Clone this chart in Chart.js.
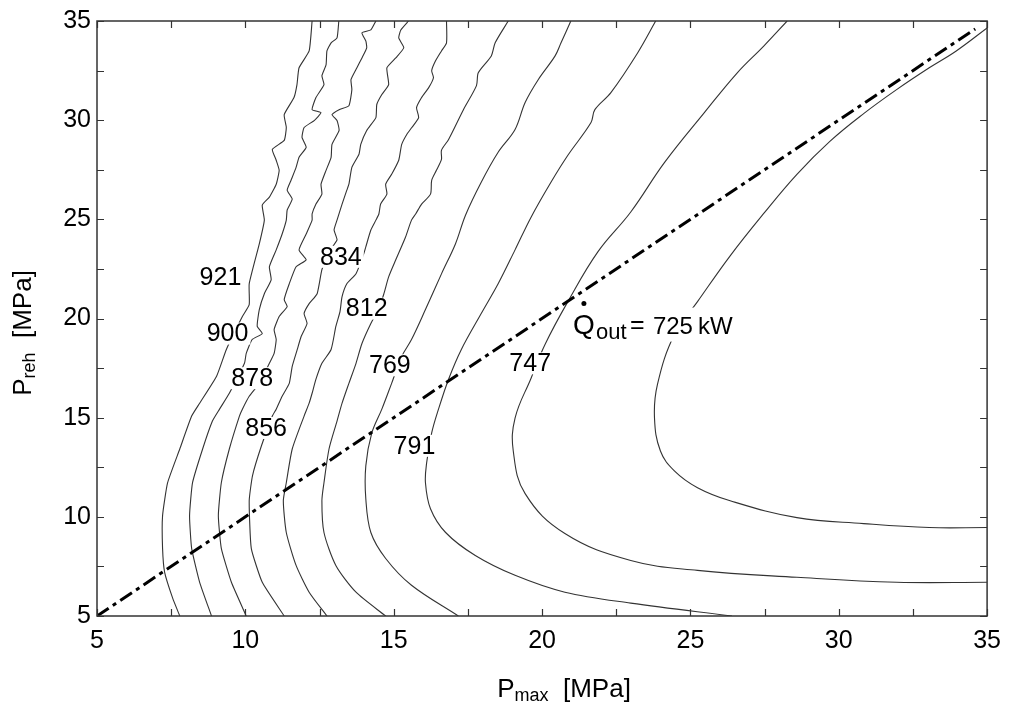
<!DOCTYPE html>
<html>
<head>
<meta charset="utf-8">
<script src="https://cdn.jsdelivr.net/npm/chart.js@4.4.0/dist/chart.umd.min.js"></script>
<style>
  html, body { margin: 0; padding: 0; background: #fff; }
  #wrap { width: 1011px; height: 706px; }
</style>
</head>
<body>
<div id="wrap"><canvas id="chart" width="1011" height="706"></canvas></div>
<script>
// contour lines of Q_out [kW], left to right as [Pmax, Preh]
const curve1 = [[12.25,35],[12.15,33.49],[11.81,32.64],[11.74,31.79],[11.64,31.14],[11.31,30.28],[11.38,29.63],[11.31,28.98],[10.91,28.53],[11.04,27.98],[11.14,27.47],[11.04,26.77],[10.81,26.12],[10.57,25.72],[10.64,24.96],[10.47,23.76],[10.13,21.75],[10.13,20.70],[9.90,20.10],[9.36,18.44],[9.03,17.09],[8.46,15.73],[8.19,15.08],[7.79,13.42],[7.38,11.72],[7.21,10.06],[7.21,8.41],[7.28,7.20],[7.55,5.90],[7.79,5]];
const curve2 = [[13.15,35],[13.09,34.15],[12.89,33.90],[12.75,33.49],[12.72,32.79],[12.58,32.24],[12.65,31.79],[12.38,31.14],[12.25,30.53],[12.55,30.38],[12.32,29.98],[11.98,29.63],[11.91,29.13],[12.05,28.63],[11.81,28.13],[11.71,27.62],[11.54,26.97],[11.41,26.47],[11.58,26.02],[11.41,25.47],[11.38,24.96],[11.24,24.26],[11.04,23.46],[10.81,22.61],[10.87,21.95],[10.64,21.25],[10.47,20.45],[10.40,19.60],[10.57,19.24],[10.23,18.94],[10.03,18.24],[9.97,17.74],[9.46,16.23],[9.13,15.43],[8.89,14.83],[8.56,13.42],[8.22,11.72],[8.12,10.06],[8.19,8.41],[8.46,6.70],[8.86,5]];
const curve3 = [[14.40,35],[14.23,34.55],[13.93,34.40],[14.06,34.00],[14.09,33.65],[13.93,33.14],[13.76,32.64],[13.56,32.04],[13.59,31.54],[13.49,30.73],[13.16,30.53],[12.92,30.28],[13.09,29.98],[13.16,29.48],[12.92,28.78],[12.89,28.13],[12.72,27.47],[12.55,26.77],[12.58,26.27],[12.38,25.77],[12.25,25.27],[12.25,24.96],[12.05,24.26],[11.81,23.46],[12.05,22.96],[11.71,22.61],[11.48,21.75],[11.31,20.95],[11.41,20.60],[11.14,20.10],[10.97,19.44],[11.04,18.94],[10.97,18.24],[10.81,17.74],[10.47,16.73],[10.13,16.08],[9.90,15.43],[9.80,15.08],[9.46,13.42],[9.19,11.72],[9.09,10.06],[9.19,8.41],[9.53,6.70],[10.03,5]];
const curve4 = [[15.50,35],[15.24,34.55],[15.17,34.15],[15.34,33.65],[15.07,33.14],[14.77,32.64],[14.83,31.79],[14.60,31.29],[14.43,30.79],[14.40,30.13],[14.09,29.48],[13.89,28.78],[13.83,28.28],[13.59,27.62],[13.49,26.77],[13.42,26.47],[13.26,25.77],[13.09,24.96],[12.99,24.46],[13.09,23.96],[12.82,23.36],[12.58,22.46],[12.42,21.25],[12.15,20.75],[11.98,20.25],[12.08,19.75],[11.88,19.09],[11.75,18.44],[11.58,17.59],[11.48,16.73],[11.24,16.08],[11.04,15.43],[10.91,15.08],[10.54,13.57],[10.24,12.07],[10.13,10.81],[10.20,8.41],[10.57,6.70],[11.31,5]];
const curve5 = [[16.78,35],[16.78,33.90],[16.61,33.49],[16.41,32.99],[16.28,32.49],[16.34,32.14],[16.18,31.64],[15.94,31.14],[15.77,30.63],[15.84,30.13],[15.61,29.63],[15.44,29.28],[15.27,28.78],[15.17,27.98],[14.93,27.27],[14.73,26.77],[14.77,26.27],[14.56,25.77],[14.50,25.27],[14.40,24.96],[14.23,24.46],[14.06,23.61],[13.99,23.26],[13.73,22.26],[13.42,21.75],[13.26,21.10],[13.19,20.35],[13.05,19.60],[12.89,18.44],[12.58,17.74],[12.38,16.94],[12.25,16.23],[12.15,15.73],[11.98,15.08],[11.58,13.42],[11.38,11.72],[11.28,10.81],[11.38,9.21],[11.71,7.55],[12.15,6.20],[12.75,5]];
const curve6 = [[18.86,35],[18.42,33.90],[18.29,33.24],[17.85,32.39],[17.79,31.74],[17.35,30.53],[16.85,29.03],[16.61,28.48],[16.61,28.02],[16.44,27.47],[16.28,26.97],[16.24,26.27],[15.94,25.77],[15.74,25.27],[15.60,24.96],[15.40,24.11],[15.07,22.96],[14.83,22.10],[14.67,21.25],[14.50,20.50],[14.23,19.75],[13.93,18.74],[13.73,17.74],[13.49,16.73],[13.26,15.73],[13.09,14.83],[12.82,13.42],[12.65,11.72],[12.58,10.81],[12.65,9.21],[13.05,7.55],[13.73,6.20],[14.73,5]];
const curve7 = [[20.97,35],[20.64,33.90],[20.44,33.24],[19.87,32.04],[19.43,30.89],[19.09,29.53],[18.52,28.38],[17.95,26.87],[17.42,25.21],[17.08,23.76],[16.61,22.25],[16.07,20.45],[15.60,18.94],[15.27,18.09],[14.93,16.73],[14.60,15.43],[14.26,14.22],[14.06,12.57],[14.06,10.91],[14.23,9.21],[14.73,7.90],[15.60,6.55],[17.18,5]];
const curve8 = [[23.83,35],[23.22,33.39],[22.32,31.39],[21.78,30.53],[21.65,29.88],[20.87,28.23],[20.30,26.87],[19.63,25.11],[19.09,23.46],[18.52,21.75],[17.95,20.25],[17.28,18.44],[16.85,16.94],[16.51,15.43],[16.28,14.23],[16.11,12.72],[16.07,11.72],[16.24,10.41],[16.75,9.21],[17.75,8.05],[19.09,7.05],[20.77,6.20],[22.99,5.65],[26.40,5]];
const curve9 = [[28.26,35],[27.48,33.75],[26.58,32.39],[25.47,30.38],[24.13,27.87],[22.99,25.37],[21.88,23.36],[20.87,20.85],[20.10,18.69],[19.63,16.99],[19.09,14.98],[19.03,13.32],[19.43,11.17],[20.77,9.16],[22.99,7.80],[25.24,7.30],[28.59,6.95],[31.95,6.70],[35,6.70]];
const curve10 = [[35,34.65],[33.96,33.49],[33.05,32.64],[31.95,31.54],[30.84,30.33],[29.70,28.93],[28.59,27.27],[27.48,25.31],[26.34,23.16],[25.24,20.85],[24.46,19.19],[23.89,16.68],[23.79,14.98],[23.99,13.32],[24.46,12.32],[25.24,11.47],[26.34,10.81],[28.59,9.96],[30.84,9.66],[33.05,9.46],[35,9.46]];
const curves = [curve1, curve2, curve3, curve4, curve5, curve6, curve7, curve8, curve9, curve10];
const curveTension = [0.15, 0.15, 0.15, 0.15, 0.2, 0.25, 0.35, 0.35, 0.4, 0.4];

// Preh = Pmax line
const diagonal = [[5,5],[34.6,34.6]];

// contour labels as printed, with their positions
const labelText = ['921', '900', '878', '856', '834', '812', '769', '791', '747'];
const labelX = [9.16, 9.40, 10.23, 10.70, 13.22, 14.09, 14.87, 15.70, 19.60];
const labelY = [22.10, 19.24, 16.99, 14.48, 23.11, 20.50, 17.64, 13.58, 17.74];
const qLabelAt = [21.04, 19.24];
const qValue = '725';

const xTicks = [5, 10, 15, 20, 25, 30, 35];
const yTicks = [5, 10, 15, 20, 25, 30, 35];

const FONT = '"Liberation Sans", Arial, sans-serif';

const datasets = curves.map((c, i) => ({
    data: c.map(([x, y]) => ({ x, y })),
    showLine: true,
    borderColor: '#333',
    borderWidth: 1.1,
    pointRadius: 0,
    tension: curveTension[i],
    order: 1
}));
datasets.push({
    data: diagonal.map(([x, y]) => ({ x, y })),
    showLine: true,
    borderColor: '#000',
    borderWidth: 3,
    borderDash: [14, 5, 4, 5],
    pointRadius: 0,
    order: 0
});

function drawTitle(ctx, main, sub, rest) {
    ctx.font = '26px ' + FONT;
    const w1 = ctx.measureText(main).width;
    const w3 = ctx.measureText(rest).width;
    ctx.font = '18px ' + FONT;
    const w2 = ctx.measureText(sub).width;
    let x = -(w1 + w2 + w3) / 2;
    ctx.font = '26px ' + FONT;
    ctx.fillText(main, x, 0);
    x += w1;
    ctx.font = '18px ' + FONT;
    ctx.fillText(sub, x, 4);
    x += w2;
    ctx.font = '26px ' + FONT;
    ctx.fillText(rest, x, 0);
}

const decorations = {
    id: 'decorations',
    afterDatasetsDraw(chart) {
        const { ctx, chartArea: a, scales: { x, y } } = chart;
        ctx.save();

        // contour labels on white patches
        ctx.font = '25px ' + FONT;
        ctx.textAlign = 'center';
        ctx.textBaseline = 'middle';
        labelText.forEach((t, i) => {
            const px = x.getPixelForValue(labelX[i]);
            const py = y.getPixelForValue(labelY[i]);
            const w = ctx.measureText(t).width;
            ctx.fillStyle = '#fff';
            ctx.fillRect(px - w / 2 - 2, py - 11, w + 4, 22);
            ctx.fillStyle = '#000';
            ctx.fillText(t, px, py + 1);
        });

        // Q_out = 725 kW
        const qx = x.getPixelForValue(qLabelAt[0]);
        const qy = y.getPixelForValue(qLabelAt[1]);
        ctx.fillStyle = '#fff';
        ctx.fillRect(qx - 1, qy - 26, 162, 34);
        ctx.fillStyle = '#000';
        ctx.textAlign = 'left';
        ctx.textBaseline = 'alphabetic';
        ctx.font = '28px ' + FONT;
        ctx.fillText('Q', qx, qy);
        ctx.beginPath();
        ctx.arc(qx + 11, qy - 30, 2.5, 0, Math.PI * 2);
        ctx.fill();
        ctx.font = '22px ' + FONT;
        ctx.fillText('out', qx + 23, qy + 5);
        ctx.font = '25px ' + FONT;
        ctx.fillText('=', qx + 57, qy - 1);
        ctx.font = '24px ' + FONT;
        ctx.fillText(qValue, qx + 80, qy);
        ctx.fillText('kW', qx + 125, qy);

        // frame
        ctx.strokeStyle = '#333';
        ctx.lineWidth = 1.5;
        ctx.strokeRect(a.left, a.top, a.right - a.left, a.bottom - a.top);

        // inward ticks on all four sides
        ctx.lineWidth = 1.2;
        ctx.beginPath();
        x.ticks.forEach(t => {
            const px = Math.round(x.getPixelForValue(t.value)) + 0.5;
            ctx.moveTo(px, a.bottom); ctx.lineTo(px, a.bottom - 7);
            ctx.moveTo(px, a.top); ctx.lineTo(px, a.top + 7);
        });
        y.ticks.forEach(t => {
            const py = Math.round(y.getPixelForValue(t.value)) + 0.5;
            ctx.moveTo(a.left, py); ctx.lineTo(a.left + 7, py);
            ctx.moveTo(a.right, py); ctx.lineTo(a.right - 7, py);
        });
        ctx.stroke();

        // axis titles
        ctx.fillStyle = '#000';
        ctx.textAlign = 'left';
        ctx.textBaseline = 'alphabetic';
        ctx.save();
        ctx.translate(564, 697);
        drawTitle(ctx, 'P', 'max', '  [MPa]');
        ctx.restore();
        ctx.save();
        ctx.translate(31, 333);
        ctx.rotate(-Math.PI / 2);
        drawTitle(ctx, 'P', 'reh', '  [MPa]');
        ctx.restore();

        ctx.restore();
    }
};

new Chart(document.getElementById('chart'), {
    type: 'scatter',
    data: { datasets },
    options: {
        responsive: false,
        animation: false,
        layout: { padding: { top: 18, right: 20, left: 0, bottom: 0 } },
        plugins: { legend: { display: false }, tooltip: { enabled: false } },
        scales: {
            x: {
                type: 'linear', min: 5, max: 35,
                grid: { display: false, drawTicks: false },
                border: { display: false },
                ticks: {
                    stepSize: 2.5, autoSkip: false, maxRotation: 0, padding: 10,
                    color: '#000', font: { family: FONT, size: 25 },
                    callback: v => xTicks.includes(v) ? v : ''
                },
                afterFit: s => { s.height = 90; }
            },
            y: {
                type: 'linear', min: 5, max: 35,
                grid: { display: false, drawTicks: false },
                border: { display: false },
                ticks: {
                    stepSize: 2.5, autoSkip: false, padding: 6,
                    color: '#000', font: { family: FONT, size: 25 },
                    callback: v => yTicks.includes(v) ? v : ''
                },
                afterFit: s => { s.width = 97; }
            }
        }
    },
    plugins: [decorations]
});
</script>
</body>
</html>
